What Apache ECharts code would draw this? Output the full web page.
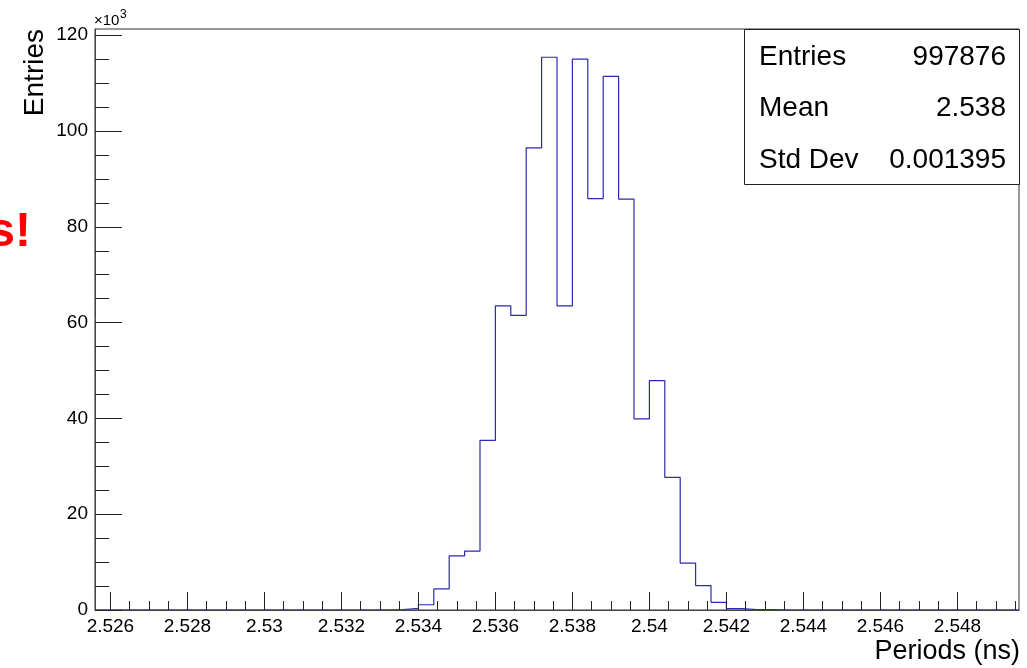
<!DOCTYPE html>
<html>
<head>
<meta charset="utf-8">
<script src="https://cdn.jsdelivr.net/npm/echarts@6/dist/echarts.min.js"></script>
<style>
html,body{margin:0;padding:0;background:#fff;}
#chart{width:1027px;height:668px;}
</style>
</head>
<body>
<div id="chart"></div>
<script>
// Histogram: 60 bins of width 0.0004 ns from 2.5256 to 2.5496 (counts in thousands)
var binLow = 2.5256;
var binWidth = 0.0004;
var binCounts = [
  0, 0, 0, 0, 0, 0, 0, 0, 0, 0,
  0, 0, 0, 0, 0, 0, 0, 0, 0, 0.1,
  0.35, 1.1, 4.4, 11.3, 12.3, 35.4, 63.5, 61.5, 96.5, 115.4,
  63.5, 115.0, 85.9, 111.4, 85.8, 39.9, 47.9, 27.7, 9.8, 5.1,
  1.6, 0.3, 0.08, 0.06, 0, 0, 0, 0, 0, 0,
  0, 0, 0, 0, 0, 0, 0, 0, 0, 0
];
var xTickLabels = [2.526, 2.528, 2.53, 2.532, 2.534, 2.536, 2.538, 2.54, 2.542, 2.544, 2.546, 2.548];
var yTickLabels = [0, 20, 40, 60, 80, 100, 120];
var statsNames = ['Entries', 'Mean', 'Std Dev'];
var statsValues = ['997876', '2.538', '0.001395'];
var xTitle = 'Periods (ns)';
var yTitle = 'Entries';

var xMin = binLow, xMax = binLow + binCounts.length * binWidth;
var yMax = 121.3;

// step outline points at bin edges
var outline = binCounts.map(function (c, k) { return [binLow + k * binWidth, c]; });
outline.push([xMax, binCounts[binCounts.length - 1]]);

// minor tick positions
var xMinor = [];
for (var i = 0; i <= 47; i++) xMinor.push(+(2.526 + i * 0.0005).toFixed(4));
var yMinor = [];
for (var j = 0; j <= 24; j++) yMinor.push(j * 5);

var FONT = "'Liberation Sans', Arial, Helvetica, sans-serif";
var tickColor = '#222';

var chart = echarts.init(document.getElementById('chart'), null, {renderer: 'canvas'});
chart.setOption({
  animation: false,
  backgroundColor: '#fff',
  grid: {left: 95, right: 8, top: 29, bottom: 58, show: true, borderColor: '#333', borderWidth: 1, backgroundColor: 'transparent'},
  xAxis: [{
    type: 'value', min: xMin, max: xMax, position: 'bottom', z: 5,
    axisLine: {show: true, onZero: false, lineStyle: {color: '#444', width: 1}},
    axisTick: {show: true, inside: true, length: 18, customValues: xTickLabels, lineStyle: {color: tickColor}},
    axisLabel: {show: true, customValues: xTickLabels, margin: 7, fontSize: 19, color: '#000', fontFamily: FONT},
    splitLine: {show: false}
  }, {
    type: 'value', min: xMin, max: xMax, position: 'bottom', z: 5,
    axisLine: {show: false},
    axisTick: {show: true, inside: true, length: 9, customValues: xMinor, lineStyle: {color: tickColor}},
    axisLabel: {show: false},
    splitLine: {show: false}
  }],
  yAxis: [{
    type: 'value', min: 0, max: yMax, position: 'left', z: 5,
    axisLine: {show: true, onZero: false, lineStyle: {color: '#444', width: 1}},
    axisTick: {show: true, inside: true, length: 27, customValues: yTickLabels, lineStyle: {color: tickColor}},
    axisLabel: {show: true, customValues: yTickLabels, margin: 7, fontSize: 19, color: '#000', fontFamily: FONT},
    splitLine: {show: false}
  }, {
    type: 'value', min: 0, max: yMax, position: 'left', z: 5,
    axisLine: {show: false},
    axisTick: {show: true, inside: true, length: 14, customValues: yMinor, lineStyle: {color: tickColor}},
    axisLabel: {show: false},
    splitLine: {show: false}
  }],
  series: [{
    type: 'line', xAxisIndex: 0, yAxisIndex: 0, step: 'end', z: 2,
    data: outline, showSymbol: false, symbol: 'none',
    lineStyle: {color: '#2a2ab0', width: 1.2},
    silent: true
  }],
  graphic: [
    {type: 'rect', z: 100, shape: {x: 744.5, y: 29.5, width: 275, height: 155},
     style: {fill: '#fff', stroke: '#222', lineWidth: 1}},
    {type: 'text', z: 101, x: 759, y: 57, style: {text: statsNames[0], font: '28px ' + FONT, fill: '#000', align: 'left', verticalAlign: 'middle'}},
    {type: 'text', z: 101, x: 759, y: 108.5, style: {text: statsNames[1], font: '28px ' + FONT, fill: '#000', align: 'left', verticalAlign: 'middle'}},
    {type: 'text', z: 101, x: 759, y: 160, style: {text: statsNames[2], font: '28px ' + FONT, fill: '#000', align: 'left', verticalAlign: 'middle'}},
    {type: 'text', z: 101, x: 1006, y: 57, style: {text: statsValues[0], font: '28px ' + FONT, fill: '#000', align: 'right', verticalAlign: 'middle'}},
    {type: 'text', z: 101, x: 1006, y: 108.5, style: {text: statsValues[1], font: '28px ' + FONT, fill: '#000', align: 'right', verticalAlign: 'middle'}},
    {type: 'text', z: 101, x: 1006, y: 160, style: {text: statsValues[2], font: '28px ' + FONT, fill: '#000', align: 'right', verticalAlign: 'middle'}},
    {type: 'text', z: 101, x: 1020, y: 652, style: {text: xTitle, font: '27px ' + FONT, fill: '#000', align: 'right', verticalAlign: 'middle'}},
    {type: 'text', z: 101, x: 35, y: 29, rotation: Math.PI / 2, style: {text: yTitle, font: '28px ' + FONT, fill: '#000', align: 'right', verticalAlign: 'middle'}},
    {type: 'text', z: 101, x: 94, y: 21, style: {text: '\u00d710', font: '15px ' + FONT, fill: '#000', align: 'left', verticalAlign: 'middle'}},
    {type: 'text', z: 101, x: 120, y: 15, style: {text: '3', font: '12px ' + FONT, fill: '#000', align: 'left', verticalAlign: 'middle'}},
    {type: 'text', z: 101, x: 31, y: 233, style: {text: 's!', font: "bold 48px 'Liberation Sans Narrow', 'Liberation Sans', Arial, sans-serif", fill: '#ff0000', align: 'right', verticalAlign: 'middle'}}
  ]
});
</script>
</body>
</html>
